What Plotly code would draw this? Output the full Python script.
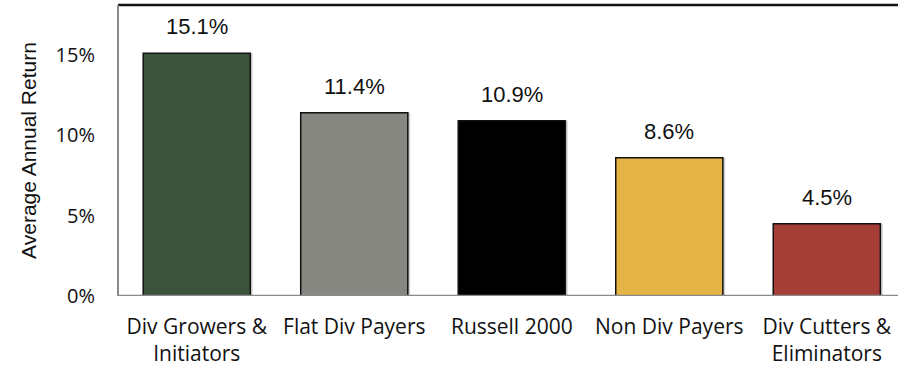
import plotly.graph_objects as go

categories = ["Div Growers &<br>Initiators", "Flat Div Payers", "Russell 2000",
              "Non Div Payers", "Div Cutters &<br>Eliminators"]
returns = [15.1, 11.4, 10.9, 8.6, 4.5]
bar_colors = ["#3B533A", "#878782", "#000000", "#E4B446", "#A63E38"]
tick_vals = [0, 5, 10, 15]
tick_text = ["0%", "5%", "10%", "15%"]

fig = go.Figure()

# soft drop shadow behind each bar
fig.add_trace(go.Bar(
    x=list(range(len(returns))), y=returns, width=0.68, offset=-0.325,
    marker=dict(color="rgba(0,0,0,0.18)", line=dict(width=0)),
    hoverinfo="skip", showlegend=False,
))
fig.add_trace(go.Bar(
    x=list(range(len(returns))), y=returns, width=0.68,
    marker=dict(color=bar_colors, line=dict(color="#111111", width=1.5)),
    showlegend=False,
))

for i, v in enumerate(returns):
    fig.add_annotation(
        x=i, y=v, text=f"{v:.1f}%", showarrow=False, yanchor="bottom",
        yshift=12, font=dict(family="Liberation Sans, Arial", size=22, color="#111111"),
    )

fig.update_layout(
    width=898, height=367,
    margin=dict(l=118, r=0, t=5, b=71),
    paper_bgcolor="white", plot_bgcolor="white",
    barmode="overlay",
    xaxis=dict(
        range=[-0.5, 4.452],
        tickmode="array", tickvals=list(range(len(categories))), ticktext=categories,
        tickfont=dict(family="Open Sans", size=21, color="#111111"),
        showgrid=False, zeroline=False, showline=False, ticks="",
        ticklabelstandoff=16,
    ),
    yaxis=dict(
        range=[0, 18.1],
        tickmode="array", tickvals=tick_vals, ticktext=tick_text,
        tickfont=dict(family="Open Sans", size=20, color="#111111"),
        showgrid=False, zeroline=False, showline=False, ticks="",
        ticklabelstandoff=22,
        title=dict(text="Average Annual Return", standoff=13,
                   font=dict(family="Liberation Sans, Arial", size=21, color="#111111")),
    ),
)

# frame: dark top edge, grey left edge and base line
fig.add_shape(type="line", xref="paper", yref="paper", x0=0, x1=1, y0=1, y1=1,
              line=dict(color="#111111", width=2.5))
fig.add_shape(type="line", xref="paper", yref="paper", x0=0, x1=0, y0=0, y1=1,
              line=dict(color="#8A8A8A", width=2))
fig.add_shape(type="line", xref="paper", yref="y", x0=0, x1=1, y0=0, y1=0,
              line=dict(color="#8A8A8A", width=2.5))

fig.write_html("out.html")
